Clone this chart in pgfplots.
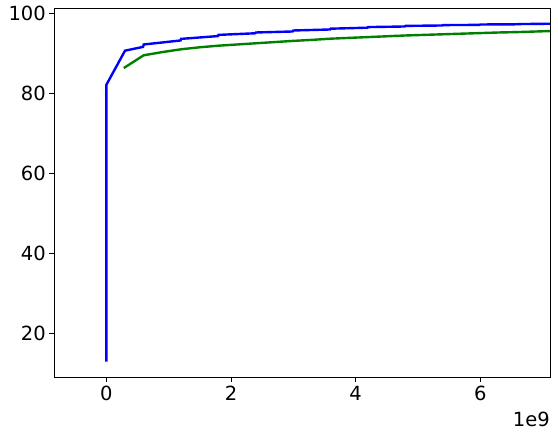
\documentclass[border=0pt]{standalone}
\usepackage{fontspec}
\setmainfont{DejaVu Sans}
\usepackage{pgfplots}
\pgfplotsset{compat=1.18}
\definecolor{mplBlue}{RGB}{0,0,255}
\definecolor{mplGreen}{RGB}{0,128,0}

\begin{document}
\begin{tikzpicture}
\path[use as bounding box] (-54.3pt,-58.7pt) rectangle (503.7pt,377.3pt);
\begin{axis}[
  name=ax,
  at={(0,0)}, anchor=south west,
  scale only axis,
  width=495.7pt, height=369pt,
  xmin=-0.835, xmax=7.12,
  ymin=8.95, ymax=101.25,
  xtick={0,2,4,6},
  ytick={20,40,60,80,100},
  tick align=outside,
  major tick length=5pt,
  tick style={black, line width=0.8pt},
  xtick pos=bottom, ytick pos=left,
  axis line style={line width=0.8pt},
  every tick label/.style={font=\fontsize{19.5}{22}\selectfont},
  /pgf/number format/assume math mode=true,
  clip=true,
]

% blue series (x in units of 1e9)
\addplot[mplBlue, line width=2.4pt] coordinates {
  (0,12.9) (0,82.1) (0.30,90.65) (0.59,91.6) (0.60,92.2)
  (1.19,93.2) (1.20,93.6) (1.79,94.3) (1.80,94.6)
  (2.39,95.0) (2.40,95.2) (2.99,95.45) (3.00,95.7)
  (3.59,95.95) (3.60,96.15) (4.19,96.4) (4.20,96.55)
  (4.79,96.7) (4.80,96.85) (5.39,96.95) (5.40,97.05)
  (5.99,97.1) (6.00,97.2) (6.59,97.25) (6.60,97.3) (7.20,97.4)
};

% green series
\addplot[mplGreen, line width=2.4pt] coordinates {
  (0.28,86.3) (0.60,89.5) (0.90,90.3) (1.20,91.0) (1.50,91.5)
  (1.80,91.9) (2.10,92.2) (2.40,92.5) (2.70,92.8) (3.00,93.1)
  (3.30,93.35) (3.60,93.65) (3.90,93.85) (4.20,94.05) (4.50,94.25)
  (4.80,94.45) (5.10,94.6) (5.40,94.75) (5.70,94.9) (6.00,95.05)
  (6.30,95.2) (6.60,95.3) (6.90,95.45) (7.20,95.6)
};
\end{axis}
\node[anchor=north east, inner sep=0pt, font=\fontsize{19.5}{22}\selectfont]
  at ([yshift=-35pt]ax.south east) {1e9};
\end{tikzpicture}
\end{document}
